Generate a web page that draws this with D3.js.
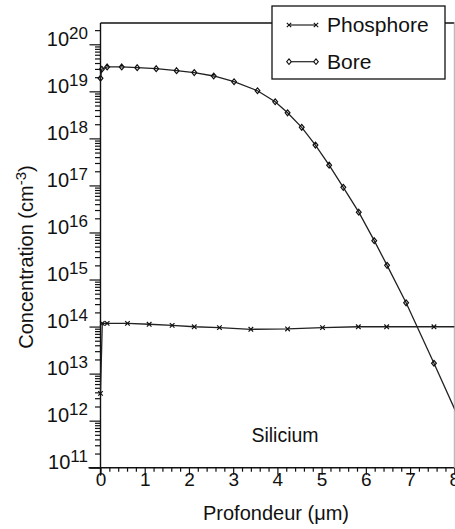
<!DOCTYPE html>
<html>
<head>
<meta charset="utf-8">
<script src="https://cdn.jsdelivr.net/npm/d3@7"></script>
<style>
  html, body { margin: 0; padding: 0; background: #fff; }
  svg { display: block; font-family: "Liberation Sans", Arial, Helvetica, sans-serif; }
</style>
</head>
<body>
<svg id="chart" width="455" height="529"></svg>
<script>
// ---- data ----
const seriesNames = ["Phosphore", "Bore"];

const phosDepth = [0, 0.04, 0.15, 0.61, 1.10, 1.62, 2.12, 2.69, 3.40, 4.23, 5.02, 5.83, 6.47, 7.54, 8.6];
const phosConc  = [3.8e12, 1.17e14, 1.17e14, 1.17e14, 1.12e14, 1.06e14, 9.9e13, 9.5e13, 8.75e13, 8.9e13, 9.5e13, 9.9e13, 9.9e13, 9.9e13, 9.9e13];

const boreDepth = [0, 0.03, 0.15, 0.48, 0.83, 1.26, 1.72, 2.12, 2.56, 3.02, 3.55, 3.95, 4.23, 4.55, 4.86, 5.17, 5.49, 5.84, 6.19, 6.48, 6.91, 7.54, 8.16];
const boreConc  = [1.9e19, 2.95e19, 3.3e19, 3.3e19, 3.18e19, 3.03e19, 2.75e19, 2.5e19, 2.12e19, 1.6e19, 1.03e19, 6.0e18, 3.5e18, 1.72e18, 7.2e17, 2.7e17, 9.1e16, 2.7e16, 6.7e15, 2.0e15, 3.2e14, 1.66e13, 8.5e11];

const xTickValues = [0, 1, 2, 3, 4, 5, 6, 7, 8];
const yDecadeExponents = [11, 12, 13, 14, 15, 16, 17, 18, 19, 20];
const xLabel = "Profondeur (\u03bcm)";
const yLabelMain = "Concentration (cm";
const yLabelSup = "-3";
const yLabelEnd = ")";
const annotation = "Silicium";

(function draw() {
  const svg = d3.select("#chart");
  const pLeft = 100.5, pRight = 454.3, pTop = 23, pBottom = 467.7;

  const x = d3.scaleLinear().domain([0, 8]).range([pLeft, pRight]);
  const y = d3.scaleLog().domain([1e11, 1e20]).range([pBottom, 44.3]);

  svg.append("defs").append("clipPath").attr("id", "plotclip")
    .append("rect").attr("x", pLeft - 6).attr("y", pTop).attr("width", pRight - pLeft + 6).attr("height", pBottom - pTop + 6);

  // y ticks
  const decades = yDecadeExponents.map(e => Math.pow(10, e));
  const minorY = [];
  yDecadeExponents.forEach(e => {
    for (let k = 2; k <= 9; k++) {
      const v = k * Math.pow(10, e);
      if (y(v) >= pTop) minorY.push(v);
    }
  });

  const yMajor = svg.append("g").attr("transform", `translate(${pLeft},0)`)
    .call(d3.axisLeft(y).tickValues(decades).tickSize(11).tickFormat(""));
  const yMinor = svg.append("g").attr("transform", `translate(${pLeft},0)`)
    .call(d3.axisLeft(y).tickValues(minorY).tickSize(5.5).tickFormat(""));
  [yMajor, yMinor].forEach(g => {
    g.select(".domain").remove();
    g.selectAll("line").attr("stroke", "#111").attr("stroke-width", 1.2);
  });

  const yLab = svg.append("g");
  decades.forEach((v, i) => {
    const t = yLab.append("text")
      .attr("x", 88).attr("y", y(v) + 1.5)
      .attr("text-anchor", "end")
      .attr("font-size", 20).attr("fill", "#111");
    t.append("tspan").text("10");
    t.append("tspan").attr("dy", -7).attr("font-size", 17).text(String(yDecadeExponents[i]));
  });

  // x ticks
  const minorX = [];
  for (let i = 0; i < 8; i++) for (let k = 1; k <= 4; k++) minorX.push(i + k * 0.2);
  const xMajor = svg.append("g").attr("transform", `translate(0,${pBottom})`)
    .call(d3.axisBottom(x).tickValues(xTickValues).tickSize(7).tickFormat(d3.format("d")));
  const xMinor = svg.append("g").attr("transform", `translate(0,${pBottom})`)
    .call(d3.axisBottom(x).tickValues(minorX).tickSize(4).tickFormat(""));
  [xMajor, xMinor].forEach(g => {
    g.select(".domain").remove();
    g.selectAll("line").attr("stroke", "#111").attr("stroke-width", 1.2);
  });
  xMajor.selectAll("text")
    .attr("y", 5).attr("dy", "0.72em")
    .attr("font-size", 19).attr("fill", "#111")
    .attr("font-family", "Liberation Sans, Arial, sans-serif");

  // frame / axes lines
  svg.append("line").attr("x1", pLeft).attr("x2", pLeft).attr("y1", pTop).attr("y2", pBottom + 8)
    .attr("stroke", "#111").attr("stroke-width", 1.4);
  svg.append("line").attr("x1", pLeft - 12).attr("x2", pRight).attr("y1", pBottom).attr("y2", pBottom)
    .attr("stroke", "#111").attr("stroke-width", 1.4);
  svg.append("line").attr("x1", pLeft).attr("x2", pRight).attr("y1", pTop).attr("y2", pTop)
    .attr("stroke", "#111").attr("stroke-width", 1.3);
  svg.append("line").attr("x1", pRight).attr("x2", pRight).attr("y1", pTop).attr("y2", pBottom)
    .attr("stroke", "#aaa").attr("stroke-width", 1);

  // data
  const plot = svg.append("g").attr("clip-path", "url(#plotclip)");
  const line = d3.line().x(d => x(d[0])).y(d => y(d[1]));
  const phos = phosDepth.map((d, i) => [d, phosConc[i]]);
  const bore = boreDepth.map((d, i) => [d, boreConc[i]]);

  plot.append("path").datum(phos).attr("d", line)
    .attr("fill", "none").attr("stroke", "#222").attr("stroke-width", 1.3);
  plot.append("path").datum(bore).attr("d", line)
    .attr("fill", "none").attr("stroke", "#222").attr("stroke-width", 1.3);

  function crossPath(cx, cy, s) {
    return `M${cx - s},${cy - s}L${cx + s},${cy + s}M${cx - s},${cy + s}L${cx + s},${cy - s}`;
  }
  function diamondPath(cx, cy, w, h) {
    return `M${cx},${cy - h}L${cx + w},${cy}L${cx},${cy + h}L${cx - w},${cy}Z`;
  }

  plot.selectAll("path.px").data(phos).join("path").attr("class", "px")
    .attr("d", d => crossPath(x(d[0]), y(d[1]), 2.3))
    .attr("stroke", "#111").attr("stroke-width", 1.2).attr("fill", "none");
  plot.selectAll("path.bd").data(bore).join("path").attr("class", "bd")
    .attr("d", d => diamondPath(x(d[0]), y(d[1]), 2.4, 2.9))
    .attr("stroke", "#111").attr("stroke-width", 1.2).attr("fill", "none");

  // annotation
  svg.append("text").attr("x", 285).attr("y", 442).attr("text-anchor", "middle")
    .attr("font-size", 19.5).attr("fill", "#111").text(annotation);

  // axis titles
  svg.append("text").attr("x", 276).attr("y", 520).attr("text-anchor", "middle")
    .attr("font-size", 20).attr("fill", "#111").text(xLabel);

  const yt = svg.append("text")
    .attr("transform", "translate(33,257) rotate(-90)")
    .attr("text-anchor", "middle").attr("font-size", 20).attr("fill", "#111");
  yt.append("tspan").text(yLabelMain);
  yt.append("tspan").attr("dy", -7).attr("font-size", 15).text(yLabelSup);
  yt.append("tspan").attr("dy", 7).text(yLabelEnd);

  // legend
  const lg = svg.append("g");
  lg.append("rect").attr("x", 272).attr("y", 6).attr("width", 173).attr("height", 73)
    .attr("fill", "#fff").attr("stroke", "#111").attr("stroke-width", 1.3);
  const legendRows = [
    { name: seriesNames[0], y: 25, base: 31.5, marker: "x" },
    { name: seriesNames[1], y: 61.7, base: 68.5, marker: "d" }
  ];
  legendRows.forEach(r => {
    lg.append("line").attr("x1", 289).attr("x2", 316).attr("y1", r.y).attr("y2", r.y)
      .attr("stroke", "#222").attr("stroke-width", 1.2);
    [289, 316].forEach(cx => {
      lg.append("path")
        .attr("d", r.marker === "x" ? crossPath(cx, r.y, 2.2) : diamondPath(cx, r.y, 2.3, 2.8))
        .attr("stroke", "#111").attr("stroke-width", 1.1).attr("fill", r.marker === "x" ? "none" : "#fff");
    });
    lg.append("text").attr("x", 327).attr("y", r.base).attr("font-size", 21)
      .attr("fill", "#111").text(r.name);
  });
})();
</script>
</body>
</html>
